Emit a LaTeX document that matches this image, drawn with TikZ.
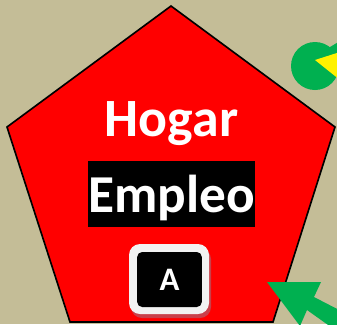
\documentclass[tikz,border=0pt]{standalone}
\usepackage{fontspec}
\setmainfont{Carlito}
\usepackage{xcolor}
\definecolor{khaki}{HTML}{C4BD97}
\definecolor{leaf}{HTML}{00B050}
\definecolor{keywhite}{HTML}{F2F2F2}
\definecolor{keyshadow}{HTML}{C9404A}

\begin{document}
\begin{tikzpicture}[
    x=0.03cm, y=-0.03cm,
    title/.style={anchor=base, inner sep=0pt, text=white, font=\fontsize{46}{52}\selectfont\bfseries},
    banner/.style={anchor=base, inner sep=0pt, fill=black, text=white, minimum width=5.01cm, text height=43.5pt, text depth=12.8pt, font=\fontsize{45.5}{52}\selectfont\bfseries},
    keycap/.style={rectangle, rounded corners=0.33cm, minimum width=2.4cm, minimum height=2.1cm},
    keyface/.style={rectangle, fill=black, rounded corners=0.15cm, minimum width=1.94cm, minimum height=1.65cm, text=white, font=\fontsize{28}{32}\selectfont\bfseries}
]
\fill[khaki] (0,0) rectangle (337,324);
\useasboundingbox (0,0) rectangle (337,324);
\clip (0,0) rectangle (337,324);

\coordinate (p0) at (171,6);
\coordinate (p1) at (335,127);
\coordinate (p2) at (273,322);
\coordinate (p3) at (70,322);
\coordinate (p4) at (7,127);
\draw[black, line width=1.4pt, fill=red, line join=miter] (p0) -- (p1) -- (p2) -- (p3) -- (p4) -- cycle;

\node[title]  (hogar)  at (171.5,136) {Hogar};
\node[banner] (empleo) at (171.5,212) {Empleo};

\node[keycap, fill=keyshadow] (shadow) at (171,283) {};
\node[keycap, fill=keywhite]  (cap)    at (169,279) {};
\node[keyface] (key) at (169.5,279.5) {A};

% green arrow, runs off the corner
\fill[leaf] (267,282) -- (321,282) -- (314,297) -- (345,313) -- (345,337) -- (307,310) -- (300,326) -- cycle;

% green disc with yellow wedge
\fill[leaf] (315,66) circle (24);
\fill[leaf] (330,47) -- (340,41) -- (340,53) -- (315,60) -- cycle;
\fill[yellow] (315,60) -- (340,52) -- (340,80) -- cycle;
\end{tikzpicture}
\end{document}
